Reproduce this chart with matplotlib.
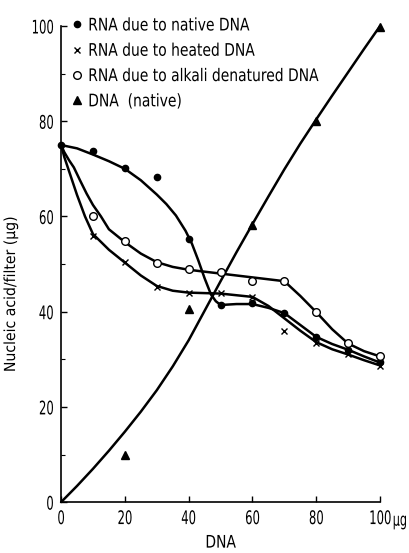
import matplotlib
matplotlib.use("Agg")
import matplotlib.pyplot as plt
import matplotlib.patheffects as pe
from matplotlib.transforms import Affine2D
from matplotlib.ticker import MultipleLocator

plt.rcParams['font.family'] = ['DejaVu Sans']

# measured points
x_rna = [0, 10, 20, 30, 40, 50, 60, 70, 80, 90, 100]
native = [75, 73.7, 70.2, 68.3, 55.3, 41.4, 41.8, 39.7, 34.7, 32, 29.4]
x_den = [10, 20, 30, 40, 50, 60, 70, 80, 90, 100]
heated = [55.9, 50.4, 45.2, 43.9, 44, 43.1, 35.9, 33.4, 31.1, 28.6]
alkali = [60.1, 54.8, 50.2, 49, 48.3, 46.4, 46.4, 39.9, 33.4, 30.7]
x_dna = [20, 40, 60, 80, 100]
dna = [9.9, 40.5, 58.2, 80, 99.8]

# hand-drawn curves
nc_x = [0, 5, 10, 15, 20, 25, 30, 33, 36, 39, 41, 43, 45, 47, 48.5, 50, 55, 60, 65, 70, 75, 80, 85, 90, 95, 100]
nc_y = [75, 74.3, 73, 71.6, 70, 67.6, 64.6, 62.6, 60.2, 57, 54.3, 50.8, 47, 43.6, 42.2, 41.4, 41.6, 41.6, 40.8, 39.7, 37.2, 34.7, 33.2, 32, 30.6, 29.3]
hc_x = [0, 1, 2.5, 5, 7.5, 10, 15, 20, 25, 30, 35, 40, 50, 60, 65, 70, 75, 80, 85, 90, 95, 100]
hc_y = [75, 72.5, 69.5, 64.5, 60, 56.3, 53, 50.3, 47.6, 45.4, 44.4, 44, 43.8, 43.1, 41.2, 38.6, 36, 33.6, 32.1, 31, 29.8, 28.7]
ac_x = [0, 1, 2.5, 4, 6, 8, 10, 12.5, 15, 20, 25, 30, 35, 40, 50, 60, 70, 75, 80, 85, 90, 95, 100]
ac_y = [75, 73.5, 71.8, 70.3, 67.5, 64.8, 62.4, 60, 57.3, 54.6, 52.2, 50.4, 49.4, 48.8, 48, 47.2, 46.4, 43.3, 39.9, 36.3, 33.3, 31.7, 30.6]
dc_x = [0, 5, 10, 15, 20, 25, 30, 35, 40, 45, 50, 55, 60, 65, 70, 75, 80, 85, 90, 95, 100]
dc_y = [0, 3.4, 7, 10.8, 14.8, 19.0, 23.5, 28.5, 34, 40.2, 46.4, 52.5, 58.4, 64.2, 69.9, 75.3, 80.4, 85.4, 90.3, 95.2, 100]

labels = ["RNA due to native DNA", "RNA due to heated DNA",
          "RNA due to alkali denatured DNA", "DNA  (native)"]
xticks = [0, 20, 40, 60, 80, 100]
yticks = [0, 20, 40, 60, 80, 100]


class Condense(pe.AbstractPathEffect):
    # squeeze glyphs sideways, the original uses a narrow typeface
    def __init__(self, sx, anchor='center'):
        super().__init__()
        self.sx = sx
        self.anchor = anchor

    def draw_path(self, renderer, gc, tpath, affine, rgbFace=None):
        ext = tpath.get_extents()
        cx = {'left': ext.x0, 'right': ext.x1}.get(self.anchor, (ext.x0 + ext.x1) / 2)
        t = Affine2D().translate(-cx, 0).scale(self.sx, 1).translate(cx, 0) + affine
        renderer.draw_path(gc, tpath, t, rgbFace)


fig = plt.figure(figsize=(4.10, 5.53), dpi=100)
ax = fig.add_axes([0.149, 0.092, 0.778, 0.861])

lw = 1.8
for cx, cy in [(nc_x, nc_y), (hc_x, hc_y), (ac_x, ac_y), (dc_x, dc_y)]:
    ax.plot(cx, cy, color='black', lw=lw, solid_capstyle='round', clip_on=False, zorder=2)

ax.plot(x_rna, native, 'o', color='black', ms=4.5, ls='none', clip_on=False, zorder=3, label=labels[0])
ax.plot(x_den, heated, 'x', color='black', ms=4.5, mew=1.0, ls='none', clip_on=False, zorder=3, label=labels[1])
ax.plot(x_den, alkali, 'o', mfc='white', mec='black', ms=5.5, mew=1.0, ls='none', clip_on=False, zorder=3, label=labels[2])
ax.plot(x_dna, dna, '^', color='black', ms=6, ls='none', clip_on=False, zorder=3, label=labels[3])

ax.set_xlim(0, 100)
ax.set_ylim(0, 100)
for s in ['top', 'right']:
    ax.spines[s].set_visible(False)
for s in ['left', 'bottom']:
    ax.spines[s].set_linewidth(1.2)

ax.set_xticks(xticks)
ax.set_xticklabels([str(v) for v in xticks])
ax.set_yticks(yticks)
ax.set_yticklabels([str(v) for v in yticks])
ax.yaxis.set_minor_locator(MultipleLocator(10))
ax.tick_params(axis='both', which='major', direction='in', length=4, width=1, labelsize=13.5)
ax.tick_params(axis='x', which='major', pad=5)
ax.tick_params(axis='y', which='major', pad=5)
ax.tick_params(axis='y', which='minor', direction='in', length=3, width=0.8)
for lab in ax.get_xticklabels():
    lab.set_path_effects([Condense(0.62)])
for lab in ax.get_yticklabels():
    lab.set_path_effects([Condense(0.62, 'right')])

# unit after the last x tick label
ax.text(103.8, -2.0, 'µg', fontsize=13, ha='left', va='top', clip_on=False,
        path_effects=[Condense(0.62, 'left')])

ax.set_xlabel('DNA', fontsize=12.5, labelpad=4, path_effects=[Condense(0.8)])
ax.set_ylabel('Nucleic acid/filter (µg)', fontsize=11, path_effects=[Condense(0.92)])
ax.yaxis.set_label_coords(-0.135, 0.437)

leg = ax.legend(loc='upper left', bbox_to_anchor=(0.035, 1.02), frameon=False,
                fontsize=12.5, handlelength=0.6, handletextpad=0.3,
                labelspacing=0.42, borderpad=0, borderaxespad=0)
for t in leg.get_texts():
    t.set_path_effects([Condense(0.8, 'left')])

fig.savefig('out.png', dpi=100)
